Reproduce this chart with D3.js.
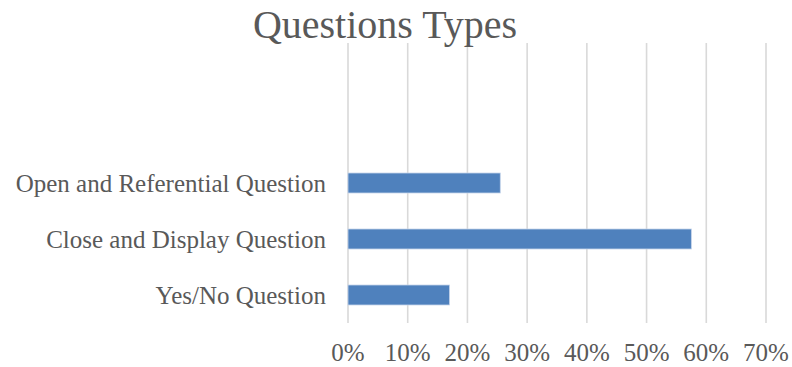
<!DOCTYPE html>
<html>
<head>
<meta charset="utf-8">
<script src="https://cdn.jsdelivr.net/npm/d3@7"></script>
<style>
  body { margin: 0; background: #fff; }
  text { font-family: "Liberation Serif", serif; fill: #595959; }
</style>
</head>
<body>
<div id="chart"></div>
<script>
// data
var categories = ["Open and Referential Question", "Close and Display Question", "Yes/No Question"];
var values = [0.255, 0.575, 0.17];
var ticks = [0, 0.1, 0.2, 0.3, 0.4, 0.5, 0.6, 0.7];
var title = "Questions Types";

var width = 792, height = 367;
var margin = {top: 43, right: 26, bottom: 44, left: 348};

var svg = d3.select("#chart").append("svg")
  .attr("width", width).attr("height", height);

var x = d3.scaleLinear().domain([0, 0.7]).range([margin.left, width - margin.right]);

// the plot keeps two empty slots above the three bars
var slots = ["_blank1", "_blank2"].concat(categories);
var y = d3.scaleBand().domain(slots)
  .range([margin.top, height - margin.bottom])
  .paddingInner(0.643).paddingOuter(0.3215);

svg.append("g").selectAll("line")
  .data(ticks)
  .enter().append("line")
  .attr("x1", function(d) { return x(d); })
  .attr("x2", function(d) { return x(d); })
  .attr("y1", margin.top)
  .attr("y2", height - margin.bottom)
  .attr("stroke", "#d9d9d9")
  .attr("stroke-width", 1.6);

svg.append("g").selectAll("rect")
  .data(categories)
  .enter().append("rect")
  .attr("x", x(0))
  .attr("y", function(d) { return y(d); })
  .attr("width", function(d, i) { return x(values[i]) - x(0); })
  .attr("height", y.bandwidth())
  .attr("fill", "#4f81bd")
  .attr("stroke", "#c5d4ea")
  .attr("stroke-width", 0.8);

svg.append("g").selectAll("text")
  .data(categories)
  .enter().append("text")
  .attr("x", x(0) - 22)
  .attr("y", function(d) { return y(d) + y.bandwidth() / 2; })
  .attr("dy", "0.35em")
  .attr("text-anchor", "end")
  .style("font-size", "25px")
  .text(function(d) { return d; });

svg.append("g").selectAll("text")
  .data(ticks)
  .enter().append("text")
  .attr("x", function(d) { return x(d); })
  .attr("y", 361)
  .attr("text-anchor", "middle")
  .style("font-size", "25px")
  .text(d3.format(".0%"));

svg.append("text")
  .attr("x", 385)
  .attr("y", 38)
  .attr("text-anchor", "middle")
  .style("font-size", "40px")
  .text(title);
</script>
</body>
</html>
